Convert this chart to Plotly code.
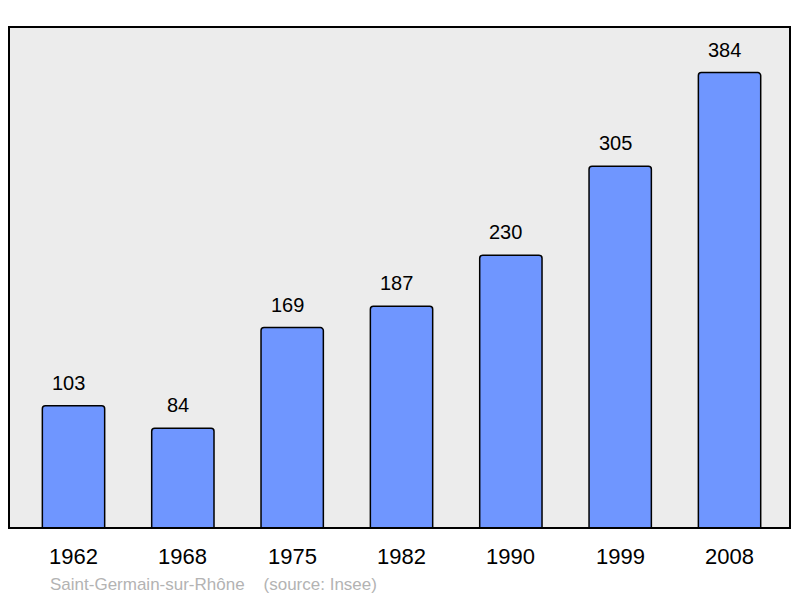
import plotly.graph_objects as go

years = ["1962", "1968", "1975", "1982", "1990", "1999", "2008"]
population = [103, 84, 169, 187, 230, 305, 384]
source_text = "Saint-Germain-sur-Rhône    (source: Insee)"

x_pos = list(range(len(years)))

fig = go.Figure()
fig.add_trace(go.Bar(
    x=x_pos, y=population, width=0.57,
    marker=dict(color="#6f96ff", line=dict(color="#000000", width=1.5), cornerradius=3),
    hoverinfo="skip",
))

annotations = []
for xi, v in zip(x_pos, population):
    annotations.append(dict(x=xi, y=v, text=str(v), showarrow=False, xref="x", yref="y",
                            yanchor="bottom", yshift=10, xshift=-5,
                            font=dict(family="Liberation Sans, Arial", size=20, color="#000")))
for xi, yr in zip(x_pos, years):
    annotations.append(dict(x=xi, y=0, text=yr, showarrow=False, xref="x", yref="paper",
                            yanchor="middle", yshift=-28,
                            font=dict(family="Liberation Sans, Arial", size=22, color="#000")))
annotations.append(dict(x=0.0499, y=-0.1118, xref="paper", yref="paper",
                        xanchor="left", yanchor="middle", text=source_text, showarrow=False,
                        font=dict(family="Liberation Sans, Arial", size=17, color="#b3b3b3")))

fig.update_layout(
    width=800, height=598,
    margin=dict(l=1, r=18, t=19, b=78),
    paper_bgcolor="#ffffff", plot_bgcolor="#ececec",
    showlegend=False,
    xaxis=dict(range=[-0.59, 6.553], showticklabels=False, showgrid=False, zeroline=False, fixedrange=True),
    yaxis=dict(range=[0, 422.4], showticklabels=False, showgrid=False, zeroline=False, fixedrange=True),
    annotations=annotations,
)
fig.add_shape(type="rect", xref="paper", yref="paper", x0=0, x1=1, y0=0, y1=1,
              line=dict(color="#000", width=2), layer="above")
fig.write_html("out.html")
